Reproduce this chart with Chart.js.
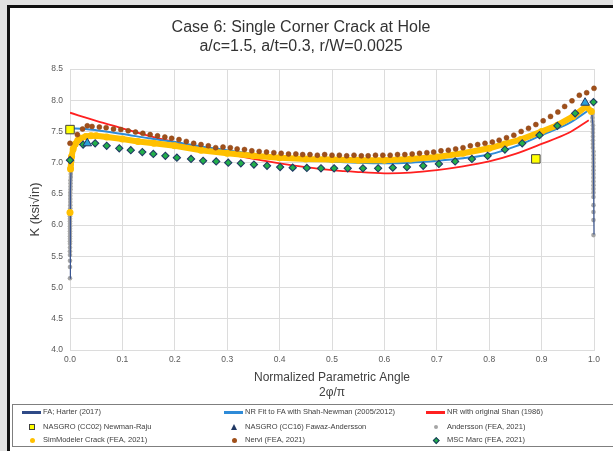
<!DOCTYPE html>
<html>
<head>
<meta charset="utf-8">
<script src="https://cdn.jsdelivr.net/npm/chart.js@4.4.1/dist/chart.umd.min.js"></script>
<style>
  html, body { margin: 0; padding: 0; }
  body { width: 613px; height: 451px; background: #e2e2e2; position: relative; overflow: hidden;
         font-family: "Liberation Sans", Arial, sans-serif; }
  #frame { position: absolute; left: 7px; top: 5px; width: 700px; height: 460px;
           border-left: 3px solid #111; border-top: 3px solid #111; background: #fff; }
  #chart { position: absolute; left: 0; top: 0; }
  #legendBox { position: absolute; left: 12px; top: 404px; width: 700px; height: 41px; border: 1px solid #7f7f7f; }
  .txt { position: absolute; font-size: 7.5px; color: #404040; white-space: nowrap; line-height: 10px; }
  .ln { position: absolute; width: 19px; height: 2.5px; }
  .mk { position: absolute; box-sizing: border-box; }
</style>
</head>
<body>
<div id="frame"></div>
<canvas id="chart" width="613" height="451"></canvas>
<div id="legendBox"></div>

<!-- legend, 3 columns like the Excel one -->
<div class="ln" style="left:22px;top:411px;background:#2F4A87"></div>
<div class="txt" style="left:43px;top:407px">FA; Harter (2017)</div>
<div class="ln" style="left:224px;top:411px;background:#2E8BD8"></div>
<div class="txt" style="left:245px;top:407px">NR Fit to FA with Shah-Newman (2005/2012)</div>
<div class="ln" style="left:426px;top:411px;background:#FF2020"></div>
<div class="txt" style="left:447px;top:407px">NR with original Shan (1986)</div>

<div class="mk" style="left:29px;top:424px;width:6px;height:6px;background:#FFFF00;border:1px solid #404040"></div>
<div class="txt" style="left:43px;top:422px">NASGRO (CC02) Newman-Raju</div>
<div class="mk" style="left:231px;top:424px;width:0;height:0;border-left:3.5px solid transparent;border-right:3.5px solid transparent;border-bottom:6px solid #203864"></div>
<div class="txt" style="left:245px;top:422px">NASGRO (CC16) Fawaz-Andersson</div>
<div class="mk" style="left:434px;top:425px;width:4px;height:4px;border-radius:50%;background:#A5A5A5"></div>
<div class="txt" style="left:447px;top:422px">Andersson (FEA, 2021)</div>

<div class="mk" style="left:29.5px;top:437.5px;width:5px;height:5px;border-radius:50%;background:#FFC000"></div>
<div class="txt" style="left:43px;top:435px">SimModeler Crack (FEA, 2021)</div>
<div class="mk" style="left:231.5px;top:437.5px;width:5px;height:5px;border-radius:50%;background:#A0501A"></div>
<div class="txt" style="left:245px;top:435px">Nervi (FEA, 2021)</div>
<div class="mk" style="left:434px;top:438px;width:4.5px;height:4.5px;transform:rotate(45deg);background:#22B04A;border:1px solid #203864"></div>
<div class="txt" style="left:447px;top:435px">MSC Marc (FEA, 2021)</div>

<script>
// ---- data ----
const titleLines = ['Case 6: Single Corner Crack at Hole', 'a/c=1.5, a/t=0.3, r/W=0.0025'];
const xTitle = ['Normalized Parametric Angle', '2\u03c6/\u03c0'];
const yTitle = 'K (ksi\u221ain)';
const xMin = 0, xMax = 1, xStep = 0.1;
const yMin = 4, yMax = 8.5, yStep = 0.5;

// FA; Harter (2017) - dark line, drops at both free surfaces
const harterX = [0, 0.0005, 0.001, 0.002, 0.004, 0.008, 0.015, 0.03, 0.05, 0.1, 0.2, 0.3, 0.4, 0.5, 0.6, 0.7, 0.8, 0.9, 0.95, 0.98, 0.99, 0.995, 0.998, 0.999, 1.0];
const harterY = [5.15, 6.0, 6.55, 6.9, 7.12, 7.26, 7.35, 7.41, 7.43, 7.38, 7.27, 7.15, 7.08, 7.05, 7.04, 7.09, 7.23, 7.5, 7.7, 7.85, 7.9, 7.85, 7.6, 7.0, 5.85];

// NR Fit to FA with Shah-Newman
const nrFitX = [0, 0.03, 0.05, 0.1, 0.15, 0.2, 0.25, 0.3, 0.35, 0.4, 0.45, 0.5, 0.55, 0.6, 0.65, 0.7, 0.75, 0.8, 0.85, 0.9, 0.95, 0.99];
const nrFitY = [7.55, 7.54, 7.52, 7.46, 7.39, 7.33, 7.26, 7.2, 7.14, 7.09, 7.05, 7.02, 7.0, 6.99, 7.0, 7.03, 7.07, 7.13, 7.26, 7.44, 7.62, 7.84];

// NR with original Shah
const shahX = [0, 0.05, 0.1, 0.15, 0.2, 0.25, 0.3, 0.35, 0.4, 0.45, 0.5, 0.55, 0.6, 0.65, 0.7, 0.75, 0.8, 0.85, 0.9, 0.95, 0.99];
const shahY = [7.8, 7.67, 7.55, 7.43, 7.33, 7.23, 7.14, 7.06, 6.99, 6.93, 6.88, 6.85, 6.83, 6.84, 6.88, 6.94, 7.02, 7.14, 7.3, 7.47, 7.68];

// NASGRO CC02 / CC16
const cc02X = [0, 0.889];
const cc02Y = [7.53, 7.06];
const cc16X = [0.033, 0.983];
const cc16Y = [7.31, 7.96];

// Andersson (FEA) - edge columns plus points under the yellow band
const anderssonX = [0, 0, 0, 0, 0, 0, 0, 0, 0, 0, 0, 0, 0, 0, 0, 0, 0, 0, 0, 0, 0.0005, 0.0005, 0.0005, 0.0005, 0.0005, 0.0005, 0.001, 0.001, 0.001, 0.001, 0.0015, 0.0015, 0.002, 0.002, 0.003, 0.004,
  0.01, 0.05, 0.15, 0.3, 0.45, 0.6, 0.75, 0.9, 0.97,
  0.996, 0.997, 0.997, 0.997, 0.998, 0.998, 0.998, 0.998, 0.998, 0.998, 0.998, 0.999, 0.999, 0.999, 0.999, 0.999, 0.999, 0.999, 0.999, 0.999, 0.999, 0.999, 0.999, 0.999, 0.999, 0.999, 0.999, 0.999, 0.999];
const anderssonY = [5.15, 5.33, 5.43, 5.52, 5.58, 5.64, 5.7, 5.74, 5.78, 5.82, 5.86, 5.9, 5.94, 5.98, 6.02, 6.06, 6.1, 6.14, 6.18, 6.22, 6.27, 6.32, 6.37, 6.42, 6.47, 6.52, 6.57, 6.62, 6.67, 6.72, 6.77, 6.82, 6.87, 6.92, 6.97, 7.02,
  7.28, 7.43, 7.33, 7.15, 7.06, 7.04, 7.15, 7.5, 7.8,
  7.84, 7.78, 7.72, 7.66, 7.6, 7.54, 7.48, 7.42, 7.36, 7.3, 7.24, 7.18, 7.12, 7.06, 7.0, 6.94, 6.88, 6.82, 6.76, 6.7, 6.64, 6.58, 6.52, 6.45, 6.32, 6.21, 6.08, 5.84];

// SimModeler Crack (FEA) - dense band
const simX = [0, 0.001, 0.003, 0.006, 0.01, 0.015, 0.02, 0.03, 0.04, 0.05, 0.07, 0.1, 0.13, 0.16, 0.2, 0.25, 0.3, 0.35, 0.4, 0.45, 0.5, 0.55, 0.6, 0.65, 0.7, 0.75, 0.8, 0.83, 0.86, 0.9, 0.93, 0.96, 0.985, 0.995];
const simY = [6.2, 6.9, 7.1, 7.22, 7.3, 7.36, 7.39, 7.42, 7.43, 7.43, 7.41, 7.38, 7.34, 7.31, 7.27, 7.2, 7.15, 7.11, 7.08, 7.06, 7.05, 7.04, 7.04, 7.06, 7.09, 7.15, 7.23, 7.3, 7.37, 7.5, 7.6, 7.74, 7.9, 7.82];

// Nervi (FEA)
const nerviX = [0, 0.014, 0.024, 0.033, 0.042, 0.056, 0.069, 0.083, 0.097, 0.111, 0.125, 0.139, 0.153, 0.167, 0.181, 0.194, 0.208, 0.222, 0.236, 0.25, 0.264, 0.278, 0.292, 0.306, 0.319, 0.333, 0.347, 0.361, 0.375, 0.389, 0.403, 0.417, 0.431, 0.444, 0.458, 0.472, 0.486, 0.5, 0.514, 0.528, 0.542, 0.556, 0.569, 0.583, 0.597, 0.611, 0.625, 0.639, 0.653, 0.667, 0.681, 0.694, 0.708, 0.722, 0.736, 0.75, 0.764, 0.778, 0.792, 0.806, 0.819, 0.833, 0.847, 0.861, 0.875, 0.889, 0.903, 0.917, 0.931, 0.944, 0.958, 0.972, 0.986, 1.0];
const nerviY = [7.31, 7.45, 7.54, 7.59, 7.58, 7.57, 7.56, 7.54, 7.53, 7.51, 7.49, 7.47, 7.45, 7.43, 7.41, 7.39, 7.37, 7.34, 7.31, 7.29, 7.27, 7.24, 7.25, 7.24, 7.22, 7.21, 7.19, 7.18, 7.17, 7.16, 7.15, 7.14, 7.14, 7.13, 7.13, 7.12, 7.13, 7.12, 7.12, 7.11, 7.12, 7.11, 7.11, 7.12, 7.12, 7.12, 7.13, 7.13, 7.14, 7.15, 7.16, 7.17, 7.19, 7.2, 7.22, 7.24, 7.27, 7.29, 7.31, 7.33, 7.36, 7.4, 7.44, 7.5, 7.55, 7.61, 7.67, 7.74, 7.81, 7.9, 7.99, 8.08, 8.12, 8.19];

// MSC Marc (FEA)
const marcX = [0, 0.025, 0.048, 0.07, 0.094, 0.116, 0.138, 0.159, 0.182, 0.204, 0.231, 0.254, 0.279, 0.302, 0.326, 0.351, 0.376, 0.401, 0.425, 0.452, 0.479, 0.504, 0.53, 0.559, 0.588, 0.616, 0.643, 0.674, 0.704, 0.735, 0.767, 0.797, 0.83, 0.863, 0.896, 0.93, 0.964, 0.999];
const marcY = [7.04, 7.29, 7.31, 7.27, 7.23, 7.2, 7.17, 7.14, 7.11, 7.08, 7.06, 7.03, 7.02, 7.0, 6.99, 6.97, 6.95, 6.93, 6.92, 6.915, 6.91, 6.91, 6.91, 6.91, 6.91, 6.92, 6.93, 6.95, 6.98, 7.02, 7.06, 7.11, 7.21, 7.31, 7.44, 7.59, 7.79, 7.97];

const pts = (xs, ys) => xs.map((x, i) => ({ x: x, y: ys[i] }));

const titlePlugin = {
  id: 'caseTitle',
  afterDraw(chart) {
    const ctx = chart.ctx;
    ctx.save();
    ctx.font = '16px "Liberation Sans", Arial, sans-serif';
    ctx.fillStyle = '#333333';
    ctx.textAlign = 'center';
    ctx.textBaseline = 'middle';
    ctx.fillText(titleLines[0], 301, 28);
    ctx.fillText(titleLines[1], 301, 47);
    ctx.restore();
  }
};

new Chart(document.getElementById('chart'), {
  type: 'scatter',
  data: {
    datasets: [
      { label: 'NASGRO (CC02) Newman-Raju', data: pts(cc02X, cc02Y), pointStyle: 'rect', pointRadius: 6,
        backgroundColor: '#FFFF00', borderColor: '#404040', borderWidth: 1, clip: false },
      { label: 'NASGRO (CC16) Fawaz-Andersson', data: pts(cc16X, cc16Y), pointStyle: 'triangle', pointRadius: 5,
        backgroundColor: '#2CA0D8', borderColor: '#203864', borderWidth: 1, clip: false },
      { label: 'MSC Marc (FEA, 2021)', data: pts(marcX, marcY), pointStyle: 'rectRot', pointRadius: 3.6,
        backgroundColor: '#22B04A', borderColor: '#203864', borderWidth: 1.1, clip: false },
      { label: 'Nervi (FEA, 2021)', data: pts(nerviX, nerviY), pointRadius: 2.5,
        backgroundColor: '#A0501A', borderColor: '#8A4214', borderWidth: 0.5, clip: false },
      { label: 'SimModeler Crack (FEA, 2021)', data: pts(simX, simY), showLine: true, borderColor: '#FFC000', borderWidth: 6,
        pointRadius: 3.5, backgroundColor: '#FFC000', pointBorderWidth: 0, clip: false,
        segment: { borderColor: c => c.p0DataIndex === 0 ? 'rgba(0,0,0,0)' : undefined } },
      { label: 'FA; Harter (2017)', data: pts(harterX, harterY), showLine: true, borderColor: '#3A5590', borderWidth: 1.2,
        pointRadius: 0, clip: false },
      { label: 'Andersson (FEA, 2021)', data: pts(anderssonX, anderssonY), pointRadius: 2.3,
        backgroundColor: '#A5A5A5', borderWidth: 0, clip: false },
      { label: 'NR Fit to FA with Shah-Newman (2005/2012)', data: pts(nrFitX, nrFitY), showLine: true, borderColor: '#2E8BD8',
        borderWidth: 2, pointRadius: 0, tension: 0.3 },
      { label: 'NR with original Shan (1986)', data: pts(shahX, shahY), showLine: true, borderColor: '#FF2020',
        borderWidth: 1.8, pointRadius: 0, tension: 0.3 }
    ]
  },
  options: {
    responsive: false,
    animation: false,
    devicePixelRatio: 1,
    layout: { padding: { top: 69, right: 19, bottom: 0, left: 0 } },
    plugins: { legend: { display: false }, tooltip: { enabled: false }, title: { display: false } },
    scales: {
      x: {
        type: 'linear', min: xMin, max: xMax,
        afterFit: s => { s.height = 101; },
        grid: { color: '#dcdcdc', drawTicks: false },
        border: { color: '#dcdcdc' },
        ticks: { stepSize: xStep, padding: 5, color: '#595959', font: { size: 8.5, family: '"Liberation Sans", Arial' },
                 callback: v => v.toFixed(1) },
        title: { display: true, text: xTitle, color: '#404040', padding: { top: 0, bottom: 51.4 },
                 font: { size: 12, family: '"Liberation Sans", Arial' } }
      },
      y: {
        min: yMin, max: yMax,
        afterFit: s => { s.width = 70; },
        grid: { color: '#dcdcdc', drawTicks: false },
        border: { color: '#dcdcdc' },
        ticks: { stepSize: yStep, padding: 7, color: '#595959', font: { size: 8.5, family: '"Liberation Sans", Arial' },
                 callback: v => v.toFixed(1) },
        title: { display: true, text: yTitle, color: '#404040', padding: { top: 27.5, bottom: 0 },
                 font: { size: 13, family: '"Liberation Sans", Arial' } }
      }
    }
  },
  plugins: [titlePlugin]
});
</script>
</body>
</html>
